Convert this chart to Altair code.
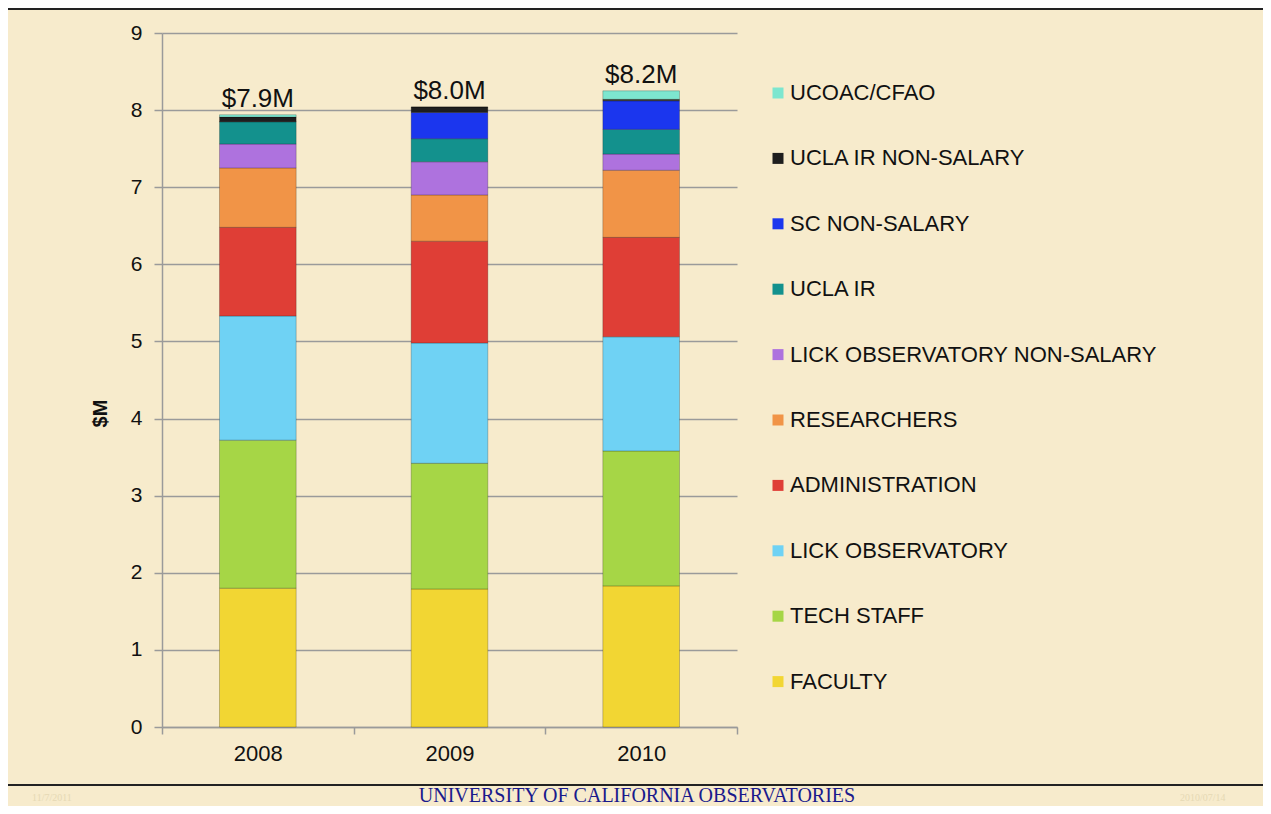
import altair as alt
import pandas as pd

# ---------------- data ----------------
years = ["2008", "2009", "2010"]
categories = [
    "FACULTY", "TECH STAFF", "LICK OBSERVATORY", "ADMINISTRATION", "RESEARCHERS",
    "LICK OBSERVATORY NON-SALARY", "UCLA IR", "SC NON-SALARY", "UCLA IR NON-SALARY", "UCOAC/CFAO",
]
values_2008 = [1.80, 1.92, 1.61, 1.15, 0.77, 0.31, 0.29, 0.00, 0.06, 0.03]
values_2009 = [1.79, 1.63, 1.56, 1.32, 0.60, 0.43, 0.30, 0.34, 0.07, 0.00]
values_2010 = [1.83, 1.75, 1.48, 1.29, 0.87, 0.21, 0.32, 0.37, 0.02, 0.11]
total_labels = ["$7.9M", "$8.0M", "$8.2M"]
colors = [
    "#F2D633", "#A6D646", "#6FD2F4", "#DF3E36", "#F19447",
    "#AE72DE", "#13918D", "#1B36EE", "#1E1E1E", "#7DE6CF",
]
y_ticks = [0, 1, 2, 3, 4, 5, 6, 7, 8, 9]

rows = []
for yr, vals in zip(years, [values_2008, values_2009, values_2010]):
    for i, (c, v) in enumerate(zip(categories, vals)):
        rows.append({"year": yr, "category": c, "value": v, "stack": i})
df = pd.DataFrame(rows)

totals = pd.DataFrame({
    "year": years,
    "total": [sum(v) for v in [values_2008, values_2009, values_2010]],
    "label": total_labels,
})

FONT = "Liberation Sans"
BG = "#F7EBCC"

x_enc = alt.X(
    "year:N", title=None,
    scale=alt.Scale(paddingInner=0, paddingOuter=0),
    axis=alt.Axis(labelAngle=0, labelFontSize=22, labelFont=FONT, labelColor="#111",
                  domainColor="#9a9a9a", domainWidth=1.5, tickColor="#9a9a9a",
                  tickWidth=1.5, tickSize=7, tickBand="extent", labelPadding=9,
                  grid=False),
)

bars = alt.Chart(df).mark_bar(
    stroke="black", strokeOpacity=0.22, strokeWidth=1, width=alt.RelativeBandSize(0.4)
).encode(
    x=x_enc,
    y=alt.Y("value:Q", stack="zero", title="$M",
            scale=alt.Scale(domain=[0, 9], nice=False),
            axis=alt.Axis(values=y_ticks, format="d", labelFontSize=21, labelFont=FONT,
                          labelColor="#111",
                          domainColor="#9a9a9a", domainWidth=1.5, tickColor="#9a9a9a",
                          tickWidth=1.5, tickSize=8, labelPadding=12,
                          gridColor="#9a9a9a", gridWidth=1.5,
                          titleFont=FONT, titleFontSize=20, titleFontWeight="bold",
                          titleColor="#111", titleAngle=270, titleX=-62, titleY=380,
                          titleAlign="center", titleBaseline="middle")),
    color=alt.Color("category:N", title=None,
                    scale=alt.Scale(domain=categories[::-1], range=colors[::-1]),
                    legend=alt.Legend(orient="none", legendX=605, legendY=49,
                                      symbolType="square", symbolSize=121,
                                      symbolStrokeWidth=0, labelFontSize=22,
                                      labelFont=FONT, labelColor="#111",
                                      rowPadding=43.4, labelOffset=1, padding=0,
                                      labelLimit=600)),
    order=alt.Order("stack:Q", sort="ascending"),
)

text = alt.Chart(totals).mark_text(
    fontSize=26, font=FONT, color="#111", baseline="alphabetic", dy=-8
).encode(x=alt.X("year:N"), y=alt.Y("total:Q"), text="label:N")

one = pd.DataFrame({"a": [0]})
top_line = alt.Chart(one).mark_rule(color="#222", strokeWidth=2).encode(
    x=alt.value(-154), x2=alt.value(1101), y=alt.value(-24))
bottom_line = alt.Chart(one).mark_rule(color="#222", strokeWidth=2).encode(
    x=alt.value(-154), x2=alt.value(1101), y=alt.value(752))
footer = alt.Chart(one).mark_text(
    fontSize=20, font="Liberation Serif", color="#1a1a8c", align="center", baseline="middle"
).encode(x=alt.value(475), y=alt.value(763), text=alt.value("UNIVERSITY OF CALIFORNIA OBSERVATORIES"))
corner_left = alt.Chart(one).mark_text(
    fontSize=10, font="Liberation Serif", color="#E6D9B4", align="left", baseline="middle"
).encode(x=alt.value(-130), y=alt.value(765), text=alt.value("11/7/2011"))
corner_right = alt.Chart(one).mark_text(
    fontSize=10, font="Liberation Serif", color="#E6D9B4", align="left", baseline="middle"
).encode(x=alt.value(1018), y=alt.value(765), text=alt.value("2010/07/14"))

chart = alt.layer(bars, text, top_line, bottom_line, footer, corner_left, corner_right).properties(
    width=575, height=694,
    autosize=alt.AutoSizeParams(type="none"),
    padding={"left": 154, "top": 25, "right": 526, "bottom": 79},
    background=BG,
).configure_view(stroke=None).configure_axis(domainCap="butt")

chart.save("out.html", embed_options={"renderer": "svg", "actions": False})
